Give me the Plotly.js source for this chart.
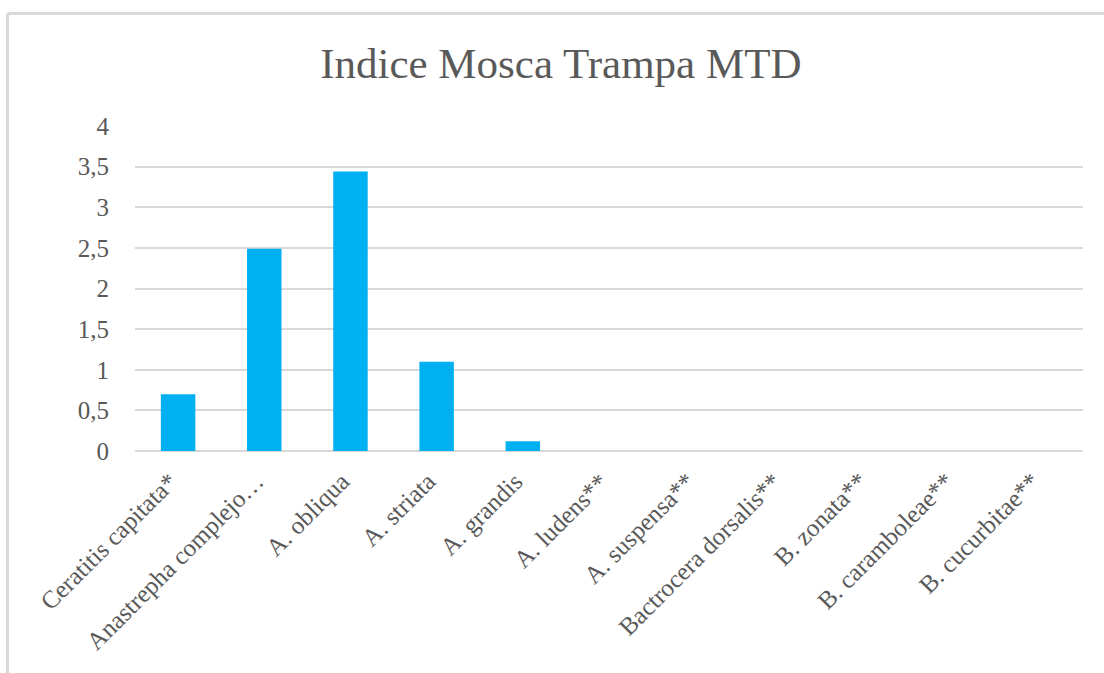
<!DOCTYPE html>
<html>
<head>
<meta charset="utf-8">
<script src="https://cdn.plot.ly/plotly-3.0.1.min.js"></script>
<style>
  html, body { margin: 0; padding: 0; background: #ffffff; }
  #chart { width: 1104px; height: 673px; }
</style>
</head>
<body>
<div id="chart"></div>
<script>
const categories = [
  "Ceratitis capitata*",
  "Anastrepha complejo…",
  "A. obliqua",
  "A. striata",
  "A. grandis",
  "A. ludens**",
  "A. suspensa**",
  "Bactrocera dorsalis**",
  "B. zonata**",
  "B. caramboleae**",
  "B. cucurbitae**"
];
const values = [0.70, 2.49, 3.44, 1.10, 0.12, 0, 0, 0, 0, 0, 0];
const yTickVals = [0, 0.5, 1, 1.5, 2, 2.5, 3, 3.5, 4];
const titleText = "Indice Mosca Trampa MTD";

const fontFamily = "'Liberation Serif', 'Times New Roman', serif";
const textColor = "#595959";

const trace = {
  type: "bar",
  x: categories,
  y: values,
  marker: { color: "#00B0F0" },
  hoverinfo: "x+y"
};

// Category labels drawn as rotated annotations anchored on the category axis
const labelAnnotations = categories.map(function (c) {
  return {
    x: c, xref: "x",
    y: 0, yref: "y",
    text: c,
    showarrow: false,
    textangle: -45,
    xanchor: "right",
    yanchor: "top",
    xshift: 7,
    yshift: -14,
    font: { family: fontFamily, size: 25, color: textColor }
  };
});

const layout = {
  width: 1104,
  height: 673,
  margin: { l: 135, r: 21, t: 126, b: 222 },
  paper_bgcolor: "#ffffff",
  plot_bgcolor: "#ffffff",
  separators: ",.",
  showlegend: false,
  bargap: 0.6,
  title: {
    text: titleText,
    font: { family: fontFamily, size: 43, color: textColor },
    x: 0.508,
    xref: "container",
    xanchor: "center",
    y: 1 - 63 / 673,
    yref: "container",
    yanchor: "middle"
  },
  xaxis: {
    type: "category",
    range: [-0.5, categories.length - 0.5],
    autorange: false,
    showticklabels: false,
    showgrid: false,
    showline: false,
    zeroline: false,
    ticks: ""
  },
  yaxis: {
    range: [0, 4],
    autorange: false,
    tickvals: yTickVals,
    showgrid: true,
    gridcolor: "#d9d9d9",
    gridwidth: 2,
    zeroline: true,
    zerolinecolor: "#d9d9d9",
    zerolinewidth: 2,
    showline: false,
    ticks: "",
    ticklabelstandoff: 25,
    tickfont: { family: fontFamily, size: 25, color: textColor }
  },
  annotations: labelAnnotations,
  shapes: [
    {
      type: "line", xref: "paper", yref: "paper",
      x0: (7.5 - 135) / 948, x1: 1.1,
      y0: (451 - 13.5) / 325, y1: (451 - 13.5) / 325,
      line: { color: "#d9d9d9", width: 3 }
    },
    {
      type: "line", xref: "paper", yref: "paper",
      x0: (7.5 - 135) / 948, x1: (7.5 - 135) / 948,
      y0: (451 - 13.5) / 325, y1: -1,
      line: { color: "#d9d9d9", width: 3 }
    }
  ]
};

Plotly.newPlot("chart", [trace], layout, { displayModeBar: false, staticPlot: true });
</script>
</body>
</html>
